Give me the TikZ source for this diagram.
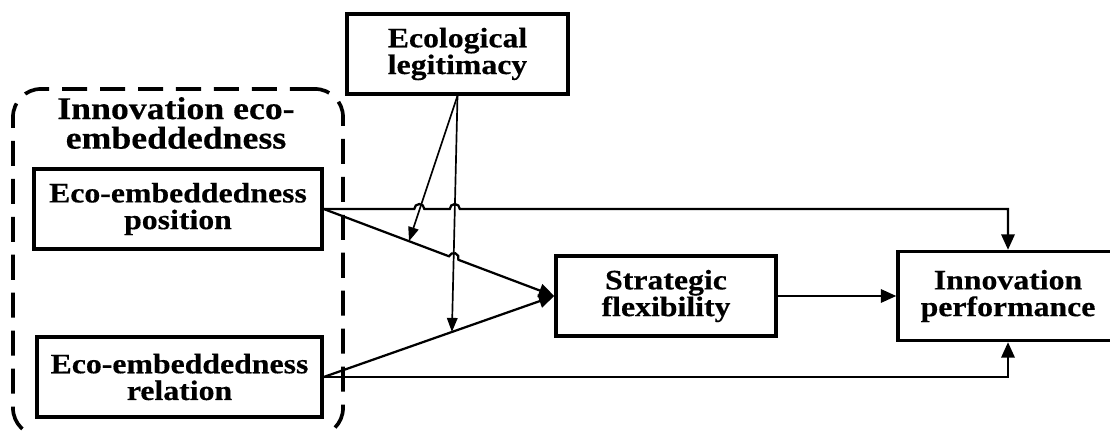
\documentclass[tikz,border=0pt]{standalone}
\usepackage{fontspec}
\setmainfont{Liberation Serif}[FakeStretch=1.13,BoldFeatures={FakeBold=0.4}]
\usetikzlibrary{arrows.meta,calc}

\begin{document}
\begin{tikzpicture}[x=0.025cm,y=-0.025cm,
    conn/.style={line width=1.6pt,-{Triangle[length=11pt,width=9.5pt]}},
    modline/.style={line width=1.2pt,-{Triangle[length=10pt,width=7.5pt]}}]%
        \useasboundingbox (0,0) rectangle (1110,431); %%
        % dashed group
        \node[draw,line width=2.6pt,rounded corners=20pt,dash pattern=on 17.8pt off 9.2pt,
              minimum width=8.25cm,minimum height=8.675cm] (ieg) at (178,262.5) {}; %%
        \node[font=\bfseries\fontsize{22.5}{21}\selectfont,align=center] (ttl) at (176,123)
              {Innovation eco-\\embeddedness}; %%
        \begin{scope}[shape=rectangle,inner sep=0pt]
        \tikzstyle{every node}=[draw,line width=2.4pt,fill=white,align=center,
              font=\bfseries\fontsize{20}{19}\selectfont] %%
        \node[minimum width=5.525cm,minimum height=2cm] (el) at (457.5,54) {Ecological\\legitimacy}; %%
        \node[minimum width=7.2cm,minimum height=2cm] (pos) at (178,209) {Eco-embeddedness\\position}; %%
        \node[minimum width=7.125cm,minimum height=2cm] (rel) at (179.5,377) {Eco-embeddedness\\relation}; %%
        \node[minimum width=5.5cm,minimum height=2cm] (sf) at (666,296) {Strategic\\flexibility}; %%
        \node[minimum width=5.5cm,minimum height=2.225cm] (ip) at (1008,296) {Innovation\\performance}; %%
        \end{scope}
        % main paths, with hops
        \draw[conn] (pos.east) -- (414.3,209) arc[start angle=180,end angle=360,radius=5]
              -- (449.8,209) arc[start angle=180,end angle=360,radius=5] -| (ip.north); %%
        \draw[conn] (pos.east) -- (449.0,256.3) arc[start angle=200.4,end angle=380.4,radius=5]
              -- (sf.west); %%
        \draw[conn] (rel.east) -- (sf.west); %%
        \draw[conn] (rel.east) -| (ip.south); %%
        \draw[conn] (sf.east) -- (ip.west); %%
        % moderating paths
        \draw[modline] (el.south) -- ($(pos.east)!0.37!(sf.west)$); %%
        \draw[modline] (el.south) -- ($(rel.east)!0.556!(sf.west)$); %%
\end{tikzpicture}
\end{document}
